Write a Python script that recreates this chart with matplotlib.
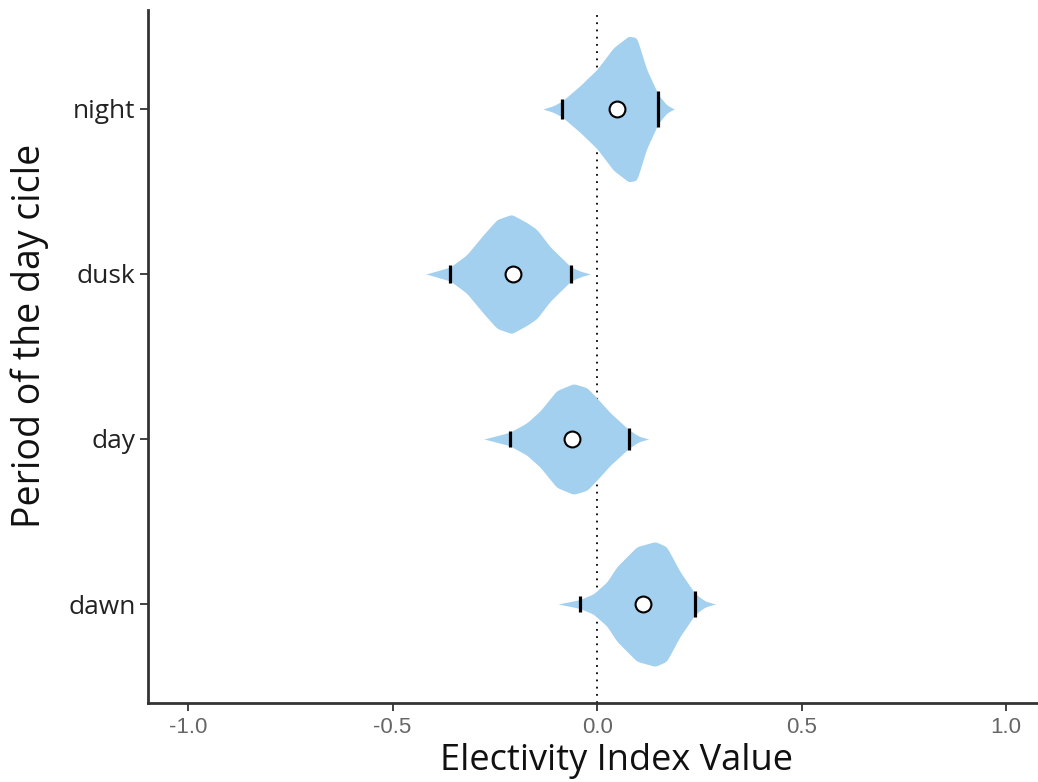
import numpy as np
import matplotlib
matplotlib.use("Agg")
import matplotlib.pyplot as plt

plt.rcParams['font.family'] = ['Open Sans', 'DejaVu Sans']

categories = ["dawn", "day", "dusk", "night"]

# violin profiles: x positions (electivity) and half-widths (in category units)
dawn_x = [-0.095, -0.043, -0.009, 0.024, 0.048, 0.097, 0.142, 0.170, 0.203, 0.240, 0.264, 0.289]
dawn_w = [0.0, 0.026, 0.061, 0.133, 0.224, 0.345, 0.376, 0.345, 0.194, 0.061, 0.018, 0.0]
day_x = [-0.276, -0.214, -0.172, -0.139, -0.099, -0.058, -0.025, -0.001, 0.032, 0.078, 0.101, 0.125]
day_w = [0.0, 0.040, 0.097, 0.170, 0.291, 0.333, 0.309, 0.248, 0.158, 0.055, 0.018, 0.0]
dusk_x = [-0.418, -0.359, -0.319, -0.278, -0.245, -0.209, -0.172, -0.147, -0.115, -0.082, -0.064, -0.042, -0.017]
dusk_w = [0.0, 0.042, 0.115, 0.236, 0.327, 0.358, 0.309, 0.267, 0.164, 0.085, 0.042, 0.018, 0.0]
night_x = [-0.132, -0.107, -0.086, -0.042, 0.000, 0.040, 0.077, 0.097, 0.121, 0.150, 0.170, 0.188]
night_w = [0.0, 0.020, 0.047, 0.140, 0.240, 0.370, 0.440, 0.430, 0.240, 0.085, 0.025, 0.0]

means = [0.113, -0.062, -0.205, 0.049]
q_low = [-0.043, -0.214, -0.359, -0.086]
q_high = [0.240, 0.078, -0.064, 0.149]

xticks = [-1.0, -0.5, 0.0, 0.5, 1.0]
xticklabels = ["-1.0", "-0.5", "0.0", "0.5", "1.0"]

profiles = [(dawn_x, dawn_w), (day_x, day_w), (dusk_x, dusk_w), (night_x, night_w)]


def smooth_profile(px, pw, n=400, k=21):
    xs = np.linspace(px[0], px[-1], n)
    ws = np.interp(xs, px, pw)
    t = np.arange(k) - k // 2
    g = np.exp(-0.5 * (t / (k / 5.0)) ** 2)
    g /= g.sum()
    pad = np.concatenate([np.zeros(k), ws, np.zeros(k)])
    sm = np.convolve(pad, g, mode="same")[k:-k]
    sm *= ws.max() / sm.max()
    return xs, sm


fig = plt.figure(figsize=(10.38, 7.82), dpi=100)
ax = fig.add_axes([148/1038, 1 - 703/782, (1038-148)/1038, (703-10)/782])

violin_color = "#a3d0ee"
for i, (px, pw) in enumerate(profiles):
    y0 = i + 1
    xs, ws = smooth_profile(px, pw)
    ax.fill_between(xs, y0 - ws, y0 + ws, color=violin_color, linewidth=0, zorder=2)
    for q in (q_low[i], q_high[i]):
        hw = max(np.interp(q, xs, ws) * 1.2, 0.05)
        ax.plot([q, q], [y0 - hw, y0 + hw], color="black", linewidth=2.3,
                solid_capstyle="butt", zorder=3)

ax.axvline(0, color="black", linestyle=(0, (1, 3)), linewidth=1.3, zorder=1)

ax.scatter(means, [1, 2, 3, 4], s=130, facecolor="white", edgecolor="black",
           linewidth=1.5, zorder=4)

ax.set_xlim(-1.098, 1.078)
ax.set_ylim(0.4, 4.6)
ax.set_yticks([1, 2, 3, 4])
ax.set_yticklabels(categories)
ax.set_xticks(xticks)
ax.set_xticklabels(xticklabels, family=["Liberation Sans", "DejaVu Sans"])

for s in ("top", "right"):
    ax.spines[s].set_visible(False)
for s in ("left", "bottom"):
    ax.spines[s].set_color("#333333")
    ax.spines[s].set_linewidth(2)

ax.tick_params(axis="y", length=6, width=1.3, color="#333333", labelsize=19,
               labelcolor="#222222", pad=3)
ax.tick_params(axis="x", length=6, width=1.3, color="#333333", labelsize=16,
               labelcolor="#666666", pad=4)

ax.set_xlabel("Electivity Index Value", fontsize=26, color="#111111", labelpad=4)
ax.set_ylabel("Period of the day cicle", fontsize=27, color="#111111", labelpad=14)
ax.xaxis.label.set_x(0.526)
ax.yaxis.label.set_y(0.53)

fig.savefig("out.png", dpi=100)
